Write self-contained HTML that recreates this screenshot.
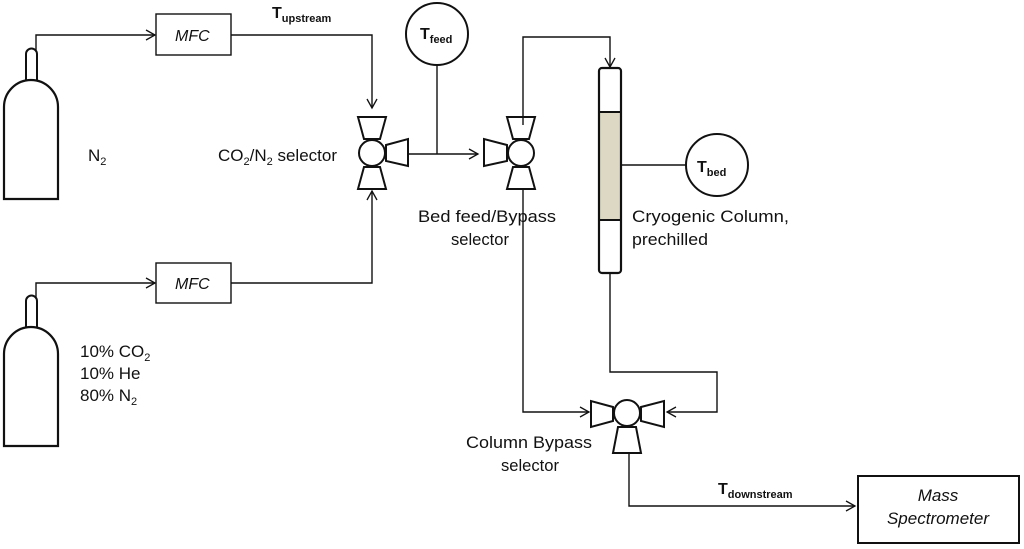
<!DOCTYPE html>
<html><head><meta charset="utf-8"><style>
html,body{margin:0;padding:0;background:#fff;}
svg{display:block;}
text{font-family:"Liberation Sans",sans-serif;fill:#111;}
</style></head><body>
<svg width="1024" height="549" viewBox="0 0 1024 549" xmlns="http://www.w3.org/2000/svg">
<defs>
<marker id="a" markerWidth="12" markerHeight="12" refX="10" refY="6" orient="auto" markerUnits="userSpaceOnUse">
<path d="M1,1 L10,6 L1,11" fill="none" stroke="#111" stroke-width="1.3"/>
</marker>
</defs>
<g fill="none" stroke="#111" stroke-width="1.4">
<path d="M4,199 V107 A27,27 0 0 1 58,107 V199 Z" stroke-width="2.2"/>
<path d="M26,80 V54 A5,5 0 0 1 37,54 V80" stroke-width="2"/>
<path d="M36,50 V35 H155" marker-end="url(#a)"/>
<path d="M4,446 V354 A27,27 0 0 1 58,354 V446 Z" stroke-width="2.2"/>
<path d="M26,327 V301 A5,5 0 0 1 37,301 V327" stroke-width="2"/>
<path d="M36,297 V283 H155" marker-end="url(#a)"/>
<rect x="156" y="14" width="75" height="41"/>
<rect x="156" y="263" width="75" height="40"/>
<path d="M231,35 H372 V108" marker-end="url(#a)"/>
<path d="M231,283 H372 V191" marker-end="url(#a)"/>
<g stroke-width="2">
<circle cx="372" cy="153" r="13"/>
<path d="M358,117 H386 L380,139 H364 Z"/>
<path d="M364,167 H380 L386,189 H358 Z"/>
<path d="M386,145 L408,139 V166 L386,161 Z"/>
</g>
<path d="M408,154 H478" marker-end="url(#a)"/>
<circle cx="437" cy="34" r="31" stroke-width="2"/>
<path d="M437,65 V154"/>
<g stroke-width="2">
<circle cx="521" cy="153" r="13"/>
<path d="M507,117 H535 L529,139 H513 Z"/>
<path d="M513,167 H529 L535,189 H507 Z"/>
<path d="M507,145 L484,139 V166 L507,161 Z"/>
</g>
<path d="M523,125 V37 H610 V67" marker-end="url(#a)"/>
<path d="M523,189 V412 H589" marker-end="url(#a)"/>
<rect x="599" y="112" width="22" height="108" fill="#ddd8c4" stroke="none"/>
<rect x="599" y="68" width="22" height="205" rx="3" stroke-width="2.2"/>
<path d="M599,112 H621 M599,220 H621" stroke-width="2"/>
<path d="M621,165 H686"/>
<circle cx="717" cy="165" r="31" stroke-width="2"/>
<path d="M610,273 V372 H717 V412 H667" marker-end="url(#a)"/>
<g stroke-width="2">
<circle cx="627" cy="413" r="13"/>
<path d="M613,407 L591,401 V427 L613,421 Z"/>
<path d="M641,407 L664,401 V427 L641,421 Z"/>
<path d="M618,427 H636 L641,453 H613 Z"/>
</g>
<path d="M629,453 V506 H855" marker-end="url(#a)"/>
<rect x="858" y="476" width="161" height="67" stroke-width="2"/>
</g>
<g font-size="17">
<text x="175" y="41" font-style="italic" font-size="16">MFC</text>
<text x="175" y="289" font-style="italic" font-size="16">MFC</text>
<text x="272" y="18" font-weight="bold" font-size="16">T<tspan font-size="11" dy="4">upstream</tspan></text>
<text x="420" y="39" font-weight="bold" font-size="16">T<tspan font-size="11" dy="4">feed</tspan></text>
<text x="697" y="172" font-weight="bold" font-size="16">T<tspan font-size="11" dy="4">bed</tspan></text>
<text x="718" y="494" font-weight="bold" font-size="16">T<tspan font-size="11" dy="4">downstream</tspan></text>
<text x="88" y="161">N<tspan font-size="11" dy="4">2</tspan></text>
<text x="218" y="161">CO<tspan font-size="11" dy="4">2</tspan><tspan dy="-4">/N</tspan><tspan font-size="11" dy="4">2</tspan><tspan dy="-4"> selector</tspan></text>
<text x="418" y="222" textLength="138" lengthAdjust="spacingAndGlyphs">Bed feed/Bypass</text>
<text x="451" y="245" textLength="58" lengthAdjust="spacingAndGlyphs">selector</text>
<text x="632" y="222" textLength="157" lengthAdjust="spacingAndGlyphs">Cryogenic Column,</text>
<text x="632" y="245" textLength="76" lengthAdjust="spacingAndGlyphs">prechilled</text>
<text x="80" y="357">10% CO<tspan font-size="11" dy="4">2</tspan></text>
<text x="80" y="379">10% He</text>
<text x="80" y="401">80% N<tspan font-size="11" dy="4">2</tspan></text>
<text x="466" y="448" textLength="126" lengthAdjust="spacingAndGlyphs">Column Bypass</text>
<text x="501" y="471" textLength="58" lengthAdjust="spacingAndGlyphs">selector</text>
<text x="938" y="501" font-style="italic" text-anchor="middle">Mass</text>
<text x="938" y="524" font-style="italic" text-anchor="middle">Spectrometer</text>
</g>
</svg>
</body></html>
